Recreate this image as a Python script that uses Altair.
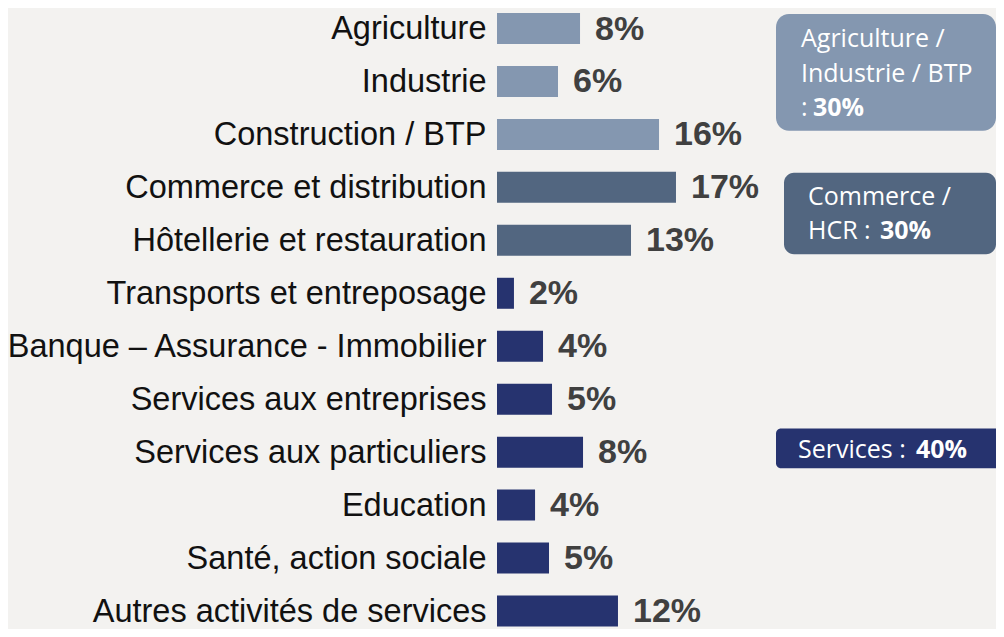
import altair as alt
import pandas as pd

# ---------------- data ----------------
categories = [
    "Agriculture",
    "Industrie",
    "Construction / BTP",
    "Commerce et distribution",
    "Hôtellerie et restauration",
    "Transports et entreposage",
    "Banque – Assurance - Immobilier",
    "Services aux entreprises",
    "Services aux particuliers",
    "Education",
    "Santé, action sociale",
    "Autres activités de services",
]
values = [8.03, 5.90, 15.67, 17.31, 12.96, 1.64, 4.45, 5.32, 8.32, 3.68, 5.03, 11.70]
labels = ["8%", "6%", "16%", "17%", "13%", "2%", "4%", "5%", "8%", "4%", "5%", "12%"]
groups = ["AIB"] * 3 + ["HCR"] * 2 + ["SRV"] * 7

group_keys = ["AIB", "HCR", "SRV"]
group_colors = ["#8497B0", "#526680", "#26336F"]

# annotation boxes (text)
box_lines = [
    ("AIB", "Agriculture /", "normal"),
    ("AIB", "Industrie / BTP", "normal"),
    ("AIB", ":", "normal"),
    ("AIB", "30%", "bold"),
    ("HCR", "Commerce /", "normal"),
    ("HCR", "HCR :", "normal"),
    ("HCR", "30%", "bold"),
    ("SRV", "Services :", "normal"),
    ("SRV", "40%", "bold"),
]

# ---------------- layout ----------------
PX_PER_PCT = 10.34
LEFT_PX = 497          # page x of the value 0
TOP_PX = 8             # page y of plot top
ROW0_PX = 28.5         # page y of first row centre
ROWN_PX = 611.0        # page y of last row centre
REF_ROW0, REF_ROWN = 18.8, 617.7   # same rows in the reference image
STEP = (ROWN_PX - ROW0_PX) / (len(categories) - 1)
WIDTH = 996 - LEFT_PX
HEIGHT = 621

x_max = WIDTH / PX_PER_PCT
y_lo = -(ROW0_PX - TOP_PX) / STEP
y_hi = (TOP_PX + HEIGHT - ROW0_PX) / STEP


def ux(px):
    return (px - LEFT_PX) / PX_PER_PCT


def uy(ref_py):
    # reference page y -> row units
    return (ref_py - REF_ROW0) / (REF_ROWN - REF_ROW0) * (len(categories) - 1)


box_geom = {  # reference pixel extents -> data units
    "AIB": dict(x0=ux(776), x1=ux(996), y0=uy(4), y1=uy(124), r=13),
    "HCR": dict(x0=ux(784), x1=ux(996), y0=uy(167), y1=uy(251), r=10),
    "SRV": dict(x0=ux(776), x1=ux(1010), y0=uy(430), y1=uy(471), r=5),
}
line_pos = [  # reference pixel anchors for each text line
    (801, 29), (801, 64.5), (801, 100), (813, 100),
    (808, 191), (808, 226), (880, 226),
    (798, 451), (916, 451),
]

df = pd.DataFrame({
    "cat": categories,
    "row": list(range(len(categories))),
    "value": values,
    "label": labels,
    "group": groups,
})

xs = alt.Scale(domain=[0, x_max], nice=False, zero=False, padding=0)
ys = alt.Scale(domain=[y_lo, y_hi], nice=False, zero=False, reverse=True, padding=0)
color = alt.Color("group:N", scale=alt.Scale(domain=group_keys, range=group_colors), legend=None)

cat_js = "[" + ",".join("'" + c.replace("'", "\\'") + "'" for c in categories) + "]"

y_axis = alt.Axis(
    values=list(range(len(categories))),
    labelExpr=cat_js + "[round(datum.value)]",
    labelFont="Liberation Sans",
    labelFontSize=32.5,
    labelColor="#111111",
    labelPadding=11,
    labelLimit=1000,
    labelOverlap=False,
    labelFlush=False,
    labelBound=False,
    ticks=False,
    domain=False,
    grid=False,
    title=None,
)

bars = alt.Chart(df).mark_bar(height=31).encode(
    x=alt.X("value:Q", scale=xs, axis=None, stack=None),
    x2=alt.datum(0),
    y=alt.Y("row:Q", scale=ys, axis=y_axis),
    color=color,
)

vals = alt.Chart(df).mark_text(
    align="left", baseline="middle", dx=15, dy=1,
    font="Liberation Sans", fontSize=34, fontWeight="bold", color="#404040",
).encode(
    x=alt.X("value:Q", scale=xs, axis=None),
    y=alt.Y("row:Q", scale=ys, axis=y_axis),
    text="label:N",
)

layers = [bars, vals]

for key, col in zip(group_keys, group_colors):
    g = box_geom[key]
    bdf = pd.DataFrame([{"x0": g["x0"], "x1": g["x1"], "y0": g["y0"], "y1": g["y1"]}])
    layers.append(
        alt.Chart(bdf).mark_rect(color=col, cornerRadius=g["r"]).encode(
            x=alt.X("x0:Q", scale=xs, axis=None),
            x2="x1:Q",
            y=alt.Y("y0:Q", scale=ys, axis=y_axis),
            y2="y1:Q",
        )
    )

tdf = pd.DataFrame([
    {"text": t, "weight": w, "x": ux(p[0]), "y": uy(p[1])}
    for (k, t, w), p in zip(box_lines, line_pos)
])
for w in ["normal", "bold"]:
    layers.append(
        alt.Chart(tdf[tdf["weight"] == w]).mark_text(
            align="left", baseline="middle", dy=1,
            font="Open Sans", fontSize=25, fontWeight=w, color="white",
        ).encode(
            x=alt.X("x:Q", scale=xs, axis=None),
            y=alt.Y("y:Q", scale=ys, axis=y_axis),
            text="text:N",
        )
    )

chart = alt.layer(*layers).properties(
    width=WIDTH,
    height=HEIGHT,
    background="#F3F2F0",
    padding={"left": LEFT_PX - 8, "top": 0, "right": 0, "bottom": 0},
    autosize=alt.AutoSizeParams(type="none"),
).configure_view(stroke=None)

chart.save("out.html", embed_options={"renderer": "svg", "actions": False})
